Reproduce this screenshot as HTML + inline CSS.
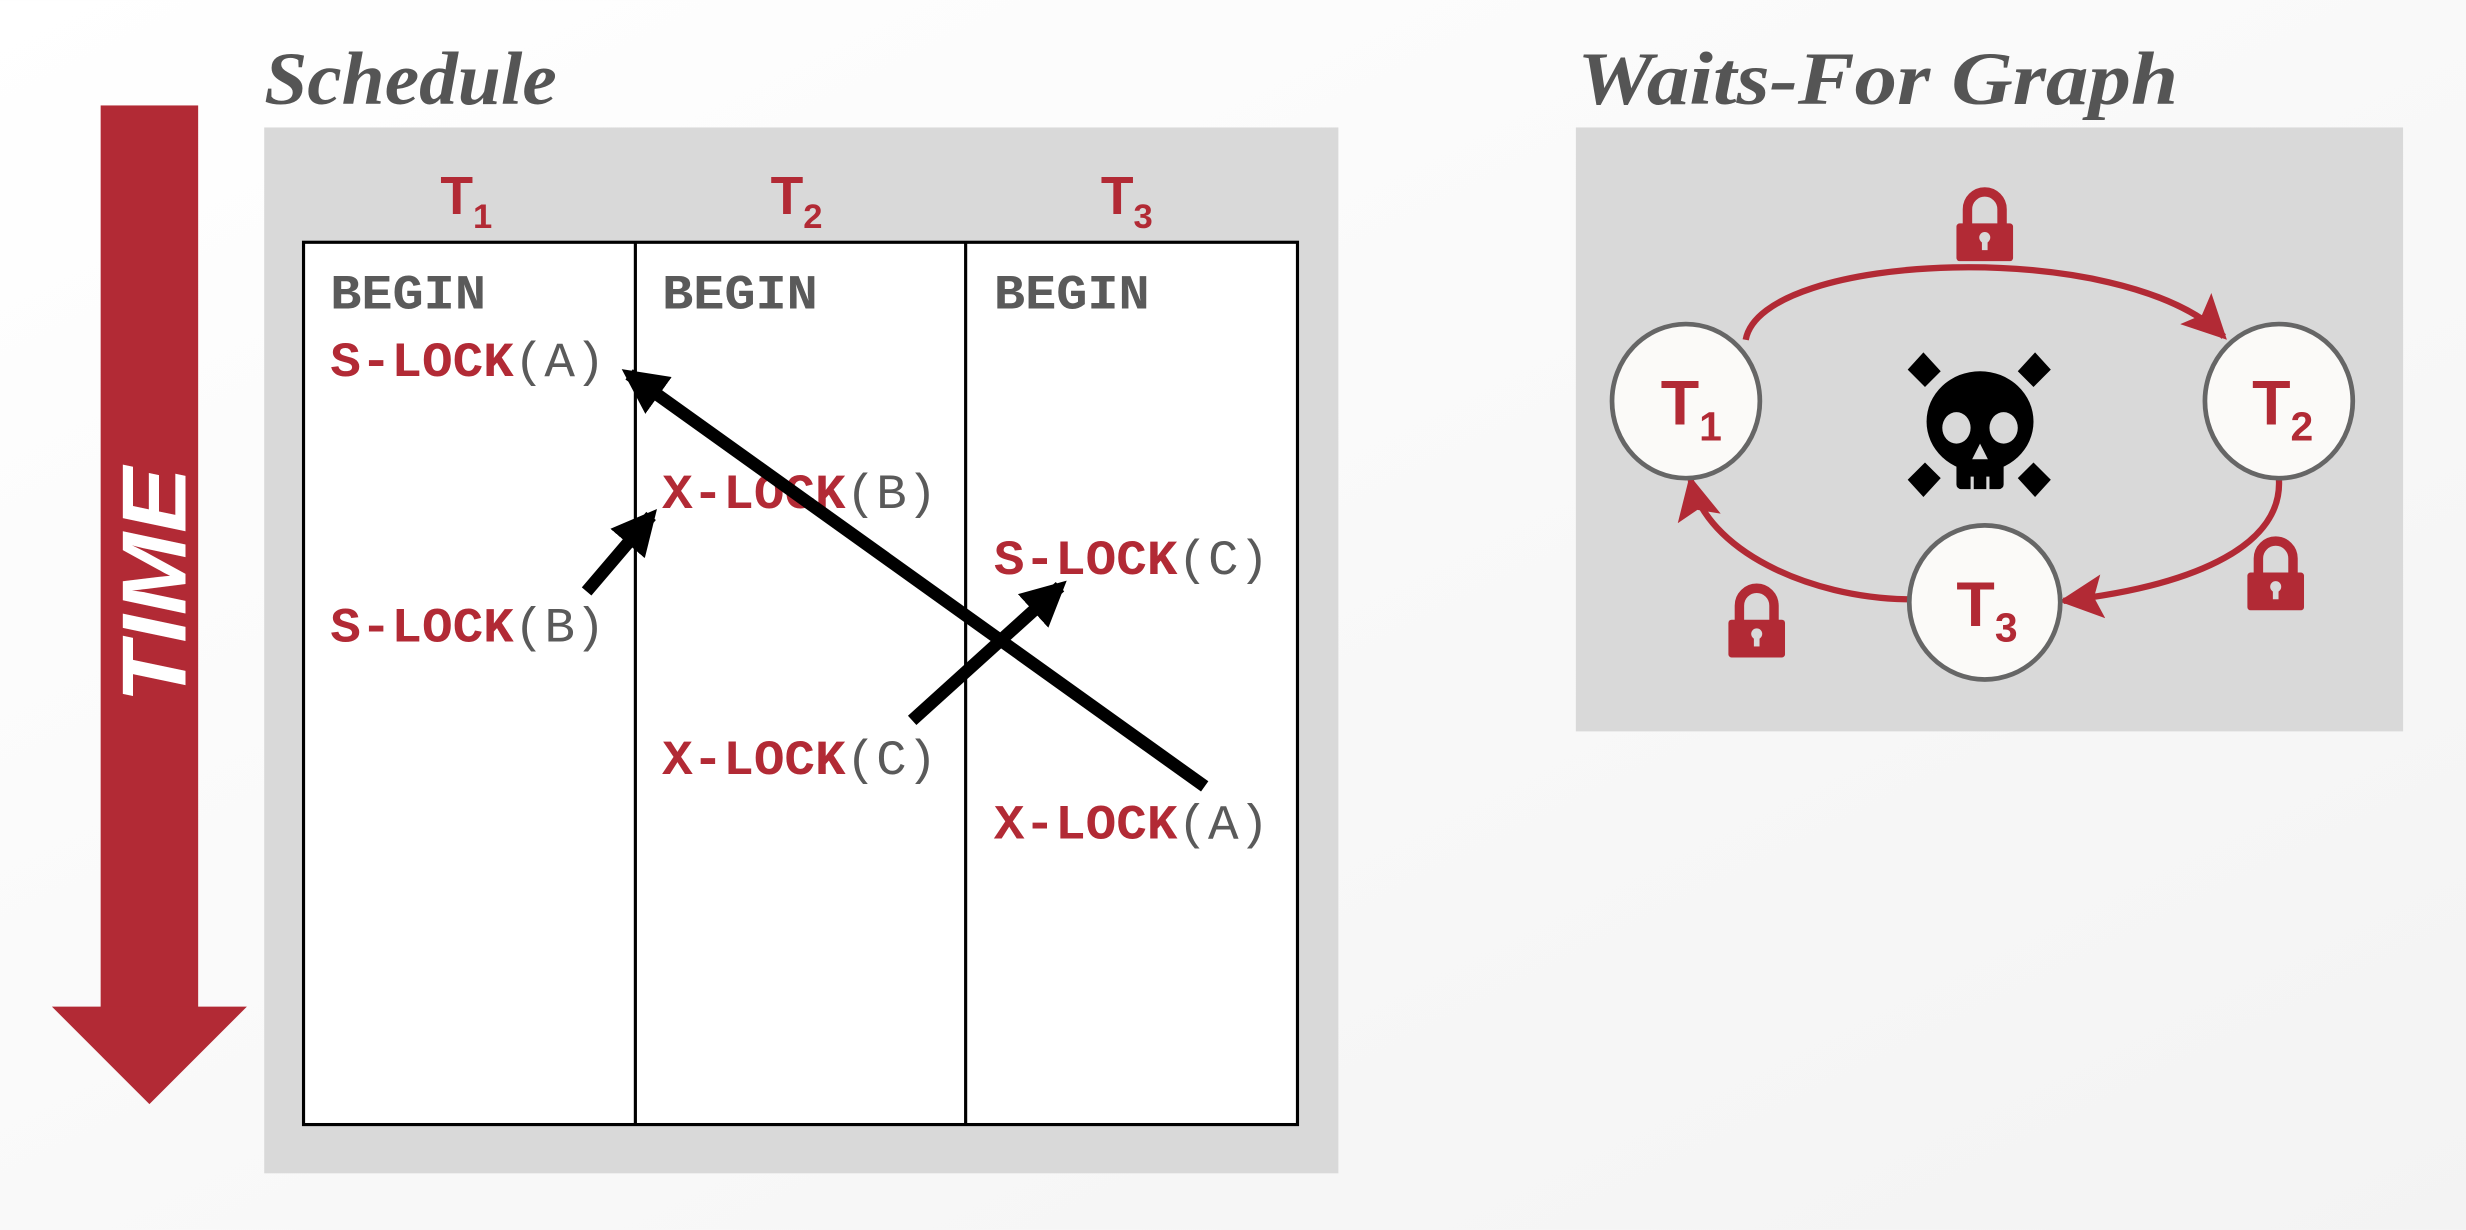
<!DOCTYPE html>
<html><head><meta charset="utf-8"><style>
html,body{margin:0;padding:0;background:#fafafa;}
svg{display:block}
.mono{font-family:"Liberation Mono",monospace;font-size:31px;}
.r{fill:#b22a35;font-weight:bold}
.g{fill:#5a5a5a}
.gb{fill:#5a5a5a;font-weight:bold}
.tl{font-family:"Liberation Sans",sans-serif;fill:#b22a35;font-weight:bold}
</style></head><body>
<svg width="2466" height="1230" viewBox="0 0 1568 782" xmlns="http://www.w3.org/2000/svg">
<defs>
<linearGradient id="bg" x1="0" y1="0" x2="1" y2="1"><stop offset="0" stop-color="#ffffff"/><stop offset="1" stop-color="#f3f3f3"/></linearGradient>
<marker id="ab" viewBox="0 0 10 10" refX="8" refY="5" markerWidth="3.6" markerHeight="3.6" orient="auto"><path d="M0,0 L10,5 L0,10 z" fill="#000"/></marker>
<marker id="ar" viewBox="0 0 10 10" refX="9" refY="5" markerWidth="7" markerHeight="7" orient="auto"><path d="M0,0 L10,5 L0,10 L2,5 z" fill="#b22a35"/></marker>
<g id="lock"><path d="M-11,0 V-10 A11,11 0 0 1 11,-10 V0" fill="none" stroke="#b22a35" stroke-width="6"/><rect x="-18" y="-1" width="36" height="24" rx="2" fill="#b22a35"/><circle cx="0" cy="8" r="3.5" fill="#d9d9d9"/><rect x="-1.8" y="8" width="3.6" height="8" fill="#d9d9d9"/></g>
</defs>
<rect width="1568" height="782" fill="url(#bg)"/>
<rect x="64" y="67" width="62" height="574" fill="#b22a35"/>
<path d="M33,640 L157,640 L95,702 z" fill="#b22a35"/>
<text transform="translate(118,372) rotate(-90)" text-anchor="middle" font-family="Liberation Sans,sans-serif" font-weight="bold" font-style="italic" font-size="58" fill="#fff" textLength="150" lengthAdjust="spacingAndGlyphs">TIME</text>
<text x="168" y="66" font-family="Liberation Serif,serif" font-weight="bold" font-style="italic" font-size="48" fill="#555" textLength="186" lengthAdjust="spacingAndGlyphs">Schedule</text>
<rect x="168" y="81" width="683" height="665" fill="#d9d9d9"/>
<rect x="193" y="154" width="632" height="561" fill="#fff" stroke="#000" stroke-width="2"/>
<line x1="404" y1="154" x2="404" y2="715" stroke="#000" stroke-width="2"/>
<line x1="614" y1="154" x2="614" y2="715" stroke="#000" stroke-width="2"/>
<text x="280" y="136" class="tl" font-size="34">T<tspan font-size="22" dy="9">1</tspan></text>
<text x="490" y="136" class="tl" font-size="34">T<tspan font-size="22" dy="9">2</tspan></text>
<text x="700" y="136" class="tl" font-size="34">T<tspan font-size="22" dy="9">3</tspan></text>
<g class="mono">
<text x="210" y="196" class="gb" textLength="99" lengthAdjust="spacingAndGlyphs">BEGIN</text>
<text x="421" y="196" class="gb" textLength="99" lengthAdjust="spacingAndGlyphs">BEGIN</text>
<text x="632" y="196" class="gb" textLength="99" lengthAdjust="spacingAndGlyphs">BEGIN</text>
<text x="210" y="239" textLength="175" lengthAdjust="spacingAndGlyphs"><tspan class="r">S-LOCK</tspan><tspan class="g">(A)</tspan></text>
<text x="421" y="323" textLength="175" lengthAdjust="spacingAndGlyphs"><tspan class="r">X-LOCK</tspan><tspan class="g">(B)</tspan></text>
<text x="632" y="365" textLength="175" lengthAdjust="spacingAndGlyphs"><tspan class="r">S-LOCK</tspan><tspan class="g">(C)</tspan></text>
<text x="210" y="408" textLength="175" lengthAdjust="spacingAndGlyphs"><tspan class="r">S-LOCK</tspan><tspan class="g">(B)</tspan></text>
<text x="421" y="492" textLength="175" lengthAdjust="spacingAndGlyphs"><tspan class="r">X-LOCK</tspan><tspan class="g">(C)</tspan></text>
<text x="632" y="533" textLength="175" lengthAdjust="spacingAndGlyphs"><tspan class="r">X-LOCK</tspan><tspan class="g">(A)</tspan></text>
</g>
<line x1="766" y1="500" x2="400" y2="238" stroke="#000" stroke-width="8" marker-end="url(#ab)"/>
<line x1="373" y1="376" x2="414" y2="328" stroke="#000" stroke-width="8" marker-end="url(#ab)"/>
<line x1="580" y1="458" x2="674" y2="373" stroke="#000" stroke-width="8" marker-end="url(#ab)"/>
<text x="1003" y="66" font-family="Liberation Serif,serif" font-weight="bold" font-style="italic" font-size="48" fill="#555" textLength="382" lengthAdjust="spacingAndGlyphs">Waits-For Graph</text>
<rect x="1002" y="81" width="526" height="384" fill="#d9d9d9"/>
<g fill="none" stroke="#b22a35" stroke-width="4">
<path d="M1110,216 C1120,160 1350,150 1414,214" marker-end="url(#ar)"/>
<path d="M1449,304 C1452,345 1400,372 1312,382" marker-end="url(#ar)"/>
<path d="M1213,381 C1150,380 1085,350 1075,305" marker-end="url(#ar)"/>
</g>
<g fill="#fbfaf8" stroke="#666" stroke-width="3">
<ellipse cx="1072" cy="255" rx="47" ry="49"/>
<ellipse cx="1449" cy="255" rx="47" ry="49"/>
<ellipse cx="1262" cy="383" rx="48" ry="49"/>
</g>
<text x="1056" y="270" class="tl" font-size="40">T<tspan font-size="26" dy="10">1</tspan></text>
<text x="1432" y="270" class="tl" font-size="40">T<tspan font-size="26" dy="10">2</tspan></text>
<text x="1244" y="398" class="tl" font-size="40">T<tspan font-size="26" dy="10">3</tspan></text>
<g fill="#000">
<path d="M1213,235 L1223,224 L1234,236 L1224,246 z"/>
<path d="M1304,235 L1294,224 L1283,236 L1293,246 z"/>
<path d="M1213,305 L1223,316 L1234,304 L1224,294 z"/>
<path d="M1304,305 L1294,316 L1283,304 L1293,294 z"/>
<ellipse cx="1259" cy="268" rx="34" ry="32"/>
<rect x="1244" y="285" width="30" height="26" rx="3"/>
</g>
<g fill="#d9d9d9">
<ellipse cx="1244" cy="272" rx="9" ry="10"/>
<ellipse cx="1274" cy="272" rx="9" ry="10"/>
<path d="M1259,282 L1264,292 L1254,292 z"/>
<rect x="1253" y="303" width="2" height="9"/>
<rect x="1263" y="303" width="2" height="9"/>
</g>
<use href="#lock" x="1262" y="143"/>
<use href="#lock" x="1447" y="365"/>
<use href="#lock" x="1117" y="395"/>
</svg>
</body></html>
